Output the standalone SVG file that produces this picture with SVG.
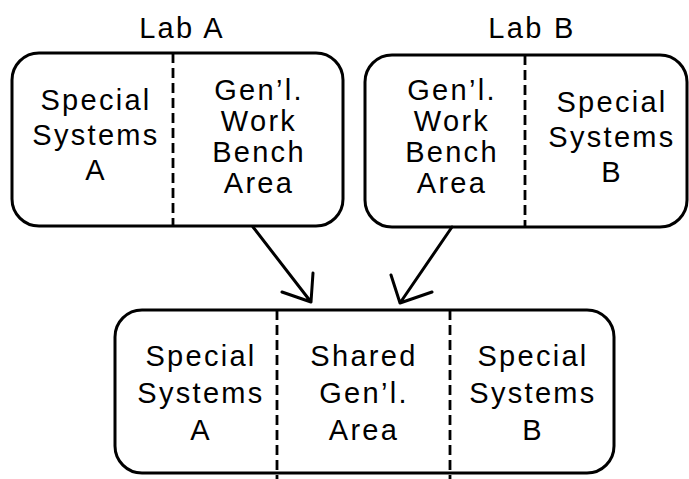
<svg xmlns="http://www.w3.org/2000/svg" width="689" height="479" viewBox="0 0 689 479">
  <style>
    .box { fill: none; stroke: #000; stroke-width: 3; }
    .div { fill: none; stroke: #000; stroke-width: 2.8; stroke-dasharray: 10 5; }
    .con { fill: none; stroke: #000; stroke-width: 3; stroke-linecap: round; stroke-linejoin: round; }
    text { font-family: "Liberation Sans", Arial, Helvetica, sans-serif; font-size: 29px; letter-spacing: 2.3px; fill: #000; text-anchor: middle; }
  </style>
  <rect width="689" height="479" fill="#fff"/>

  <!-- Lab A: special systems + general work bench -->
  <g id="labA">
    <text x="182" y="38">Lab A</text>
    <rect class="box" x="12" y="53" width="331" height="173" rx="27"/>
    <line class="div" x1="173" y1="53" x2="173" y2="226"/>
    <text x="96" y="110">Special</text>
    <text x="96" y="145">Systems</text>
    <text x="96" y="180">A</text>
    <text x="259" y="100">Gen’l.</text>
    <text x="259" y="131">Work</text>
    <text x="259" y="162">Bench</text>
    <text x="259" y="193">Area</text>
  </g>

  <!-- Lab B: general work bench + special systems -->
  <g id="labB">
    <text x="532" y="38">Lab B</text>
    <rect class="box" x="365" y="55" width="322" height="172" rx="27"/>
    <line class="div" x1="525" y1="55" x2="525" y2="227"/>
    <text x="452" y="100">Gen’l.</text>
    <text x="452" y="131">Work</text>
    <text x="452" y="162">Bench</text>
    <text x="452" y="193">Area</text>
    <text x="612" y="112">Special</text>
    <text x="612" y="147">Systems</text>
    <text x="612" y="182">B</text>
  </g>

  <!-- Combined layout with shared general area -->
  <g id="combined">
    <rect class="box" x="115" y="310" width="499" height="163" rx="27"/>
    <line class="div" x1="277" y1="310" x2="277" y2="479"/>
    <line class="div" x1="450" y1="310" x2="450" y2="479"/>
    <text x="201" y="366">Special</text>
    <text x="201" y="403">Systems</text>
    <text x="201" y="440">A</text>
    <text x="364" y="366">Shared</text>
    <text x="364" y="403">Gen’l.</text>
    <text x="364" y="440">Area</text>
    <text x="533" y="366">Special</text>
    <text x="533" y="403">Systems</text>
    <text x="533" y="440">B</text>
  </g>

  <!-- Connectors -->
  <g id="connectors">
    <path class="con" d="M253 227 L311 302 M282 292 L311 302 L313 273"/>
    <path class="con" d="M452 227 L400 303 M391 275 L400 303 L432 292"/>
  </g>
</svg>
